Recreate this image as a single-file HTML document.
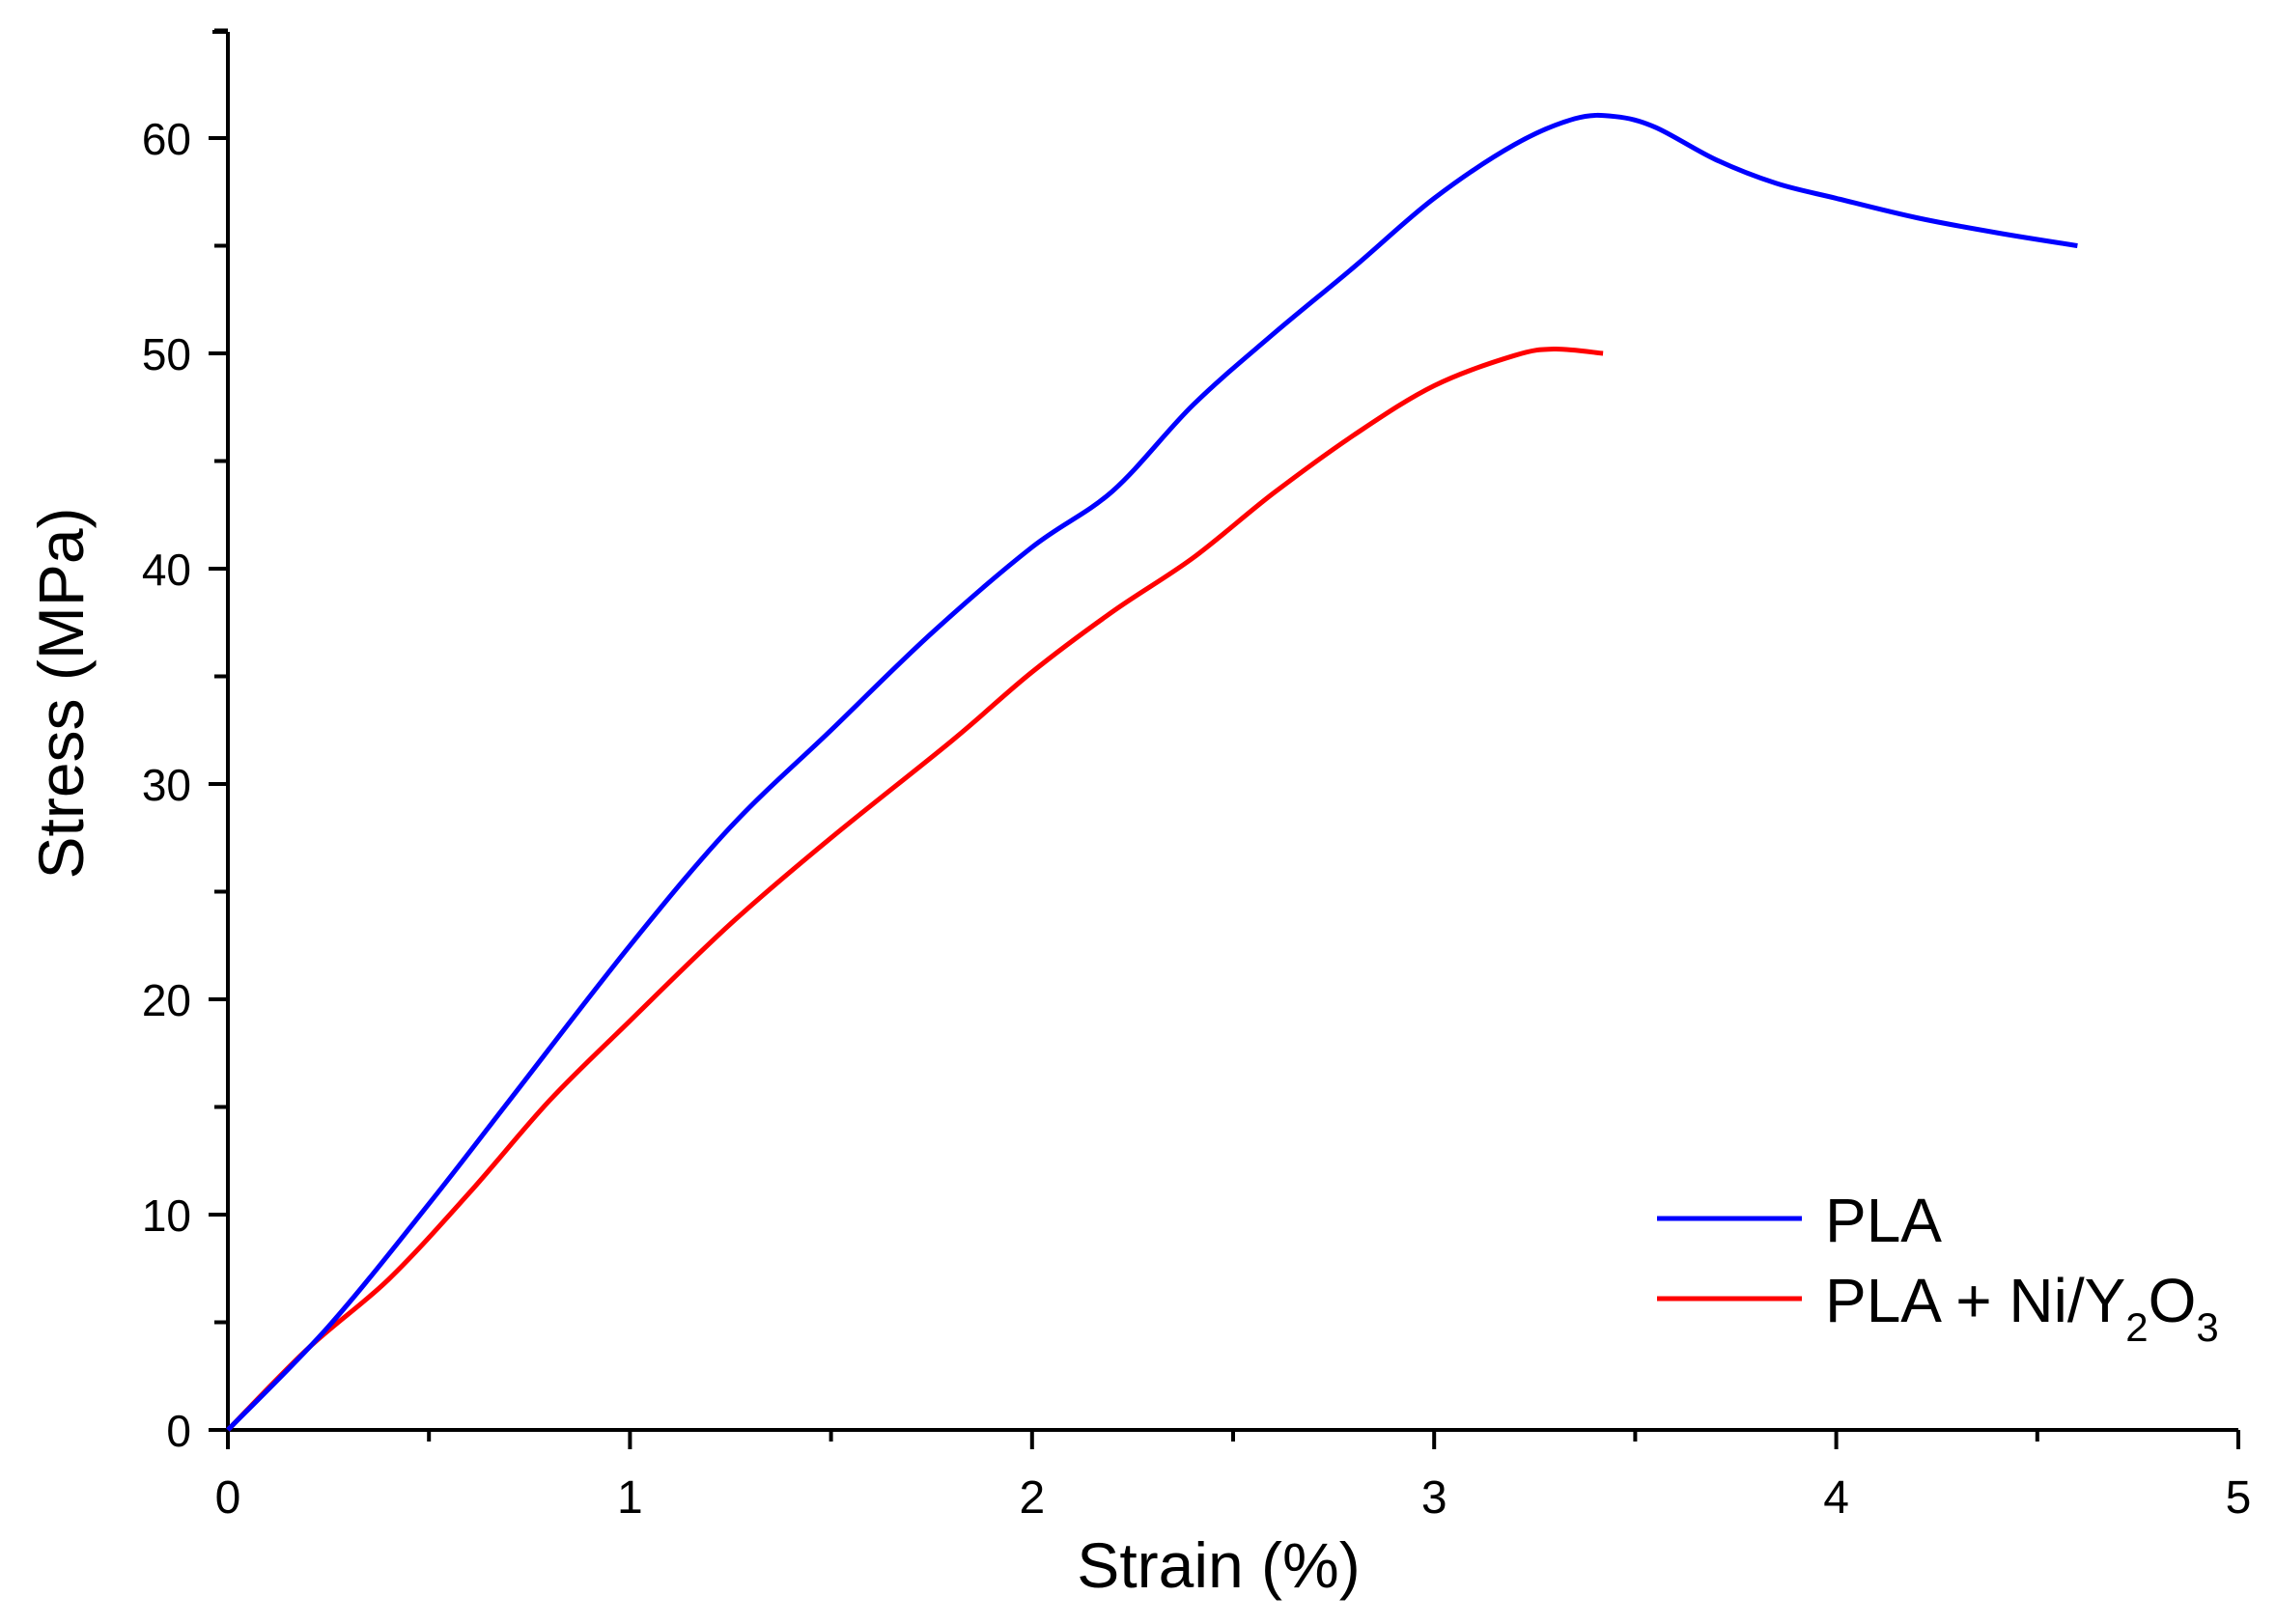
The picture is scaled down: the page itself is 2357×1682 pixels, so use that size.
<!DOCTYPE html>
<html><head><meta charset="utf-8"><style>
html,body{margin:0;padding:0;background:#fff;}
svg{display:block;font-family:"Liberation Sans",Arial,sans-serif;}
</style></head><body>
<svg id="chart" width="2357" height="1682" viewBox="0 0 2357 1682">
<g id="axes"></g>
<g id="series"></g>
<text x="1262" y="1682" font-size="66" text-anchor="middle" dy="-38">Strain (%)</text>
<text transform="translate(86,718) rotate(-90)" font-size="66" text-anchor="middle">Stress (MPa)</text>
<g>
<g>
<line x1="1716" y1="1262" x2="1866" y2="1262" stroke="#0000ff" stroke-width="5"/>
<text x="1890" y="1286" font-size="64">PLA</text></g>
<g>
<line x1="1716" y1="1345" x2="1866" y2="1345" stroke="#ff0000" stroke-width="5"/>
<text x="1890" y="1369" font-size="64">PLA + Ni/Y<tspan font-size="42" dy="20">2</tspan><tspan dy="-20">O</tspan><tspan font-size="42" dy="20">3</tspan></text></g>
</g>
</svg>
<script>
const xTicks=[0,1,2,3,4,5];
const yTicks=[0,10,20,30,40,50,60];
const plaX=[0,0.25,0.5,0.7,1.0,1.25,1.5,1.75,2.0,2.2,2.4,2.6,2.8,3.0,3.2,3.35,3.45,3.55,3.7,3.85,4.0,4.2,4.4,4.6];
const plaY=[0,4.8,10.5,15.3,22.5,28,32.5,37,41,43.6,47.6,50.9,54,57.2,59.7,60.9,61,60.5,59,57.9,57.2,56.3,55.6,55];
const niX=[0,0.2,0.4,0.6,0.8,1.0,1.25,1.5,1.8,2.0,2.2,2.4,2.6,2.8,3.0,3.2,3.3,3.42];
const niY=[0,3.8,7,11,15.3,19,23.5,27.5,32,35.2,38,40.5,43.5,46.2,48.5,49.9,50.2,50];
const X0=236,X1=2318,Y0=1481,YPER=22.3,YTOP=33;
function sx(v){return X0+(X1-X0)*v/5;}
function sy(v){return Y0-YPER*v;}
const NS="http://www.w3.org/2000/svg";
const axes=document.getElementById('axes');
function mk(tag,attrs,parent){const e=document.createElementNS(NS,tag);for(const k in attrs)e.setAttribute(k,attrs[k]);parent.appendChild(e);return e;}
let e=mk('line',{x1:X0,y1:Y0,x2:X1,y2:Y0,stroke:'#000','stroke-width':4},axes);


e=mk('line',{x1:X0,y1:Y0,x2:X0,y2:YTOP,stroke:'#000','stroke-width':4},axes);


mk('line',{x1:X0-16,y1:YTOP,x2:X0,y2:YTOP,stroke:'#000','stroke-width':4},axes);
for(let i=0;i<xTicks.length;i++){
  const x=sx(xTicks[i]);
  mk('line',{x1:x,y1:Y0,x2:x,y2:Y0+20,stroke:'#000','stroke-width':4},axes);
  const t=mk('text',{x:x,y:Y0+86,'font-size':48,'text-anchor':'middle'},axes);
  t.textContent=xTicks[i];
  
  
  if(i<xTicks.length-1){const m=sx(xTicks[i]+0.5);mk('line',{x1:m,y1:Y0,x2:m,y2:Y0+12,stroke:'#000','stroke-width':4},axes);}
}
for(let i=0;i<yTicks.length;i++){
  const y=sy(yTicks[i]);
  mk('line',{x1:X0-20,y1:y,x2:X0,y2:y,stroke:'#000','stroke-width':4},axes);
  const t=mk('text',{x:X0-38,y:y+17,'font-size':46,'text-anchor':'end'},axes);
  t.textContent=yTicks[i];
  
  
  const m=sy(yTicks[i]+5);mk('line',{x1:X0-14,y1:m,x2:X0,y2:m,stroke:'#000','stroke-width':4},axes);
}
const series=document.getElementById('series');
function path(xs,ys){
  const P=xs.map((v,i)=>[sx(v),sy(ys[i])]);
  let d='M'+P[0][0].toFixed(1)+','+P[0][1].toFixed(1);
  for(let i=0;i<P.length-1;i++){
    const p0=P[Math.max(0,i-1)],p1=P[i],p2=P[i+1],p3=P[Math.min(P.length-1,i+2)];
    const c1=[p1[0]+(p2[0]-p0[0])/6,p1[1]+(p2[1]-p0[1])/6];
    const c2=[p2[0]-(p3[0]-p1[0])/6,p2[1]-(p3[1]-p1[1])/6];
    d+=' C'+c1.map(n=>n.toFixed(1)).join(',')+' '+c2.map(n=>n.toFixed(1)).join(',')+' '+p2.map(n=>n.toFixed(1)).join(',');
  }
  return d;
}
let p=mk('path',{d:path(niX,niY),fill:'none',stroke:'#ff0000','stroke-width':5,'stroke-linejoin':'round'},series);


p=mk('path',{d:path(plaX,plaY),fill:'none',stroke:'#0000ff','stroke-width':5,'stroke-linejoin':'round'},series);


</script>
</body></html>
